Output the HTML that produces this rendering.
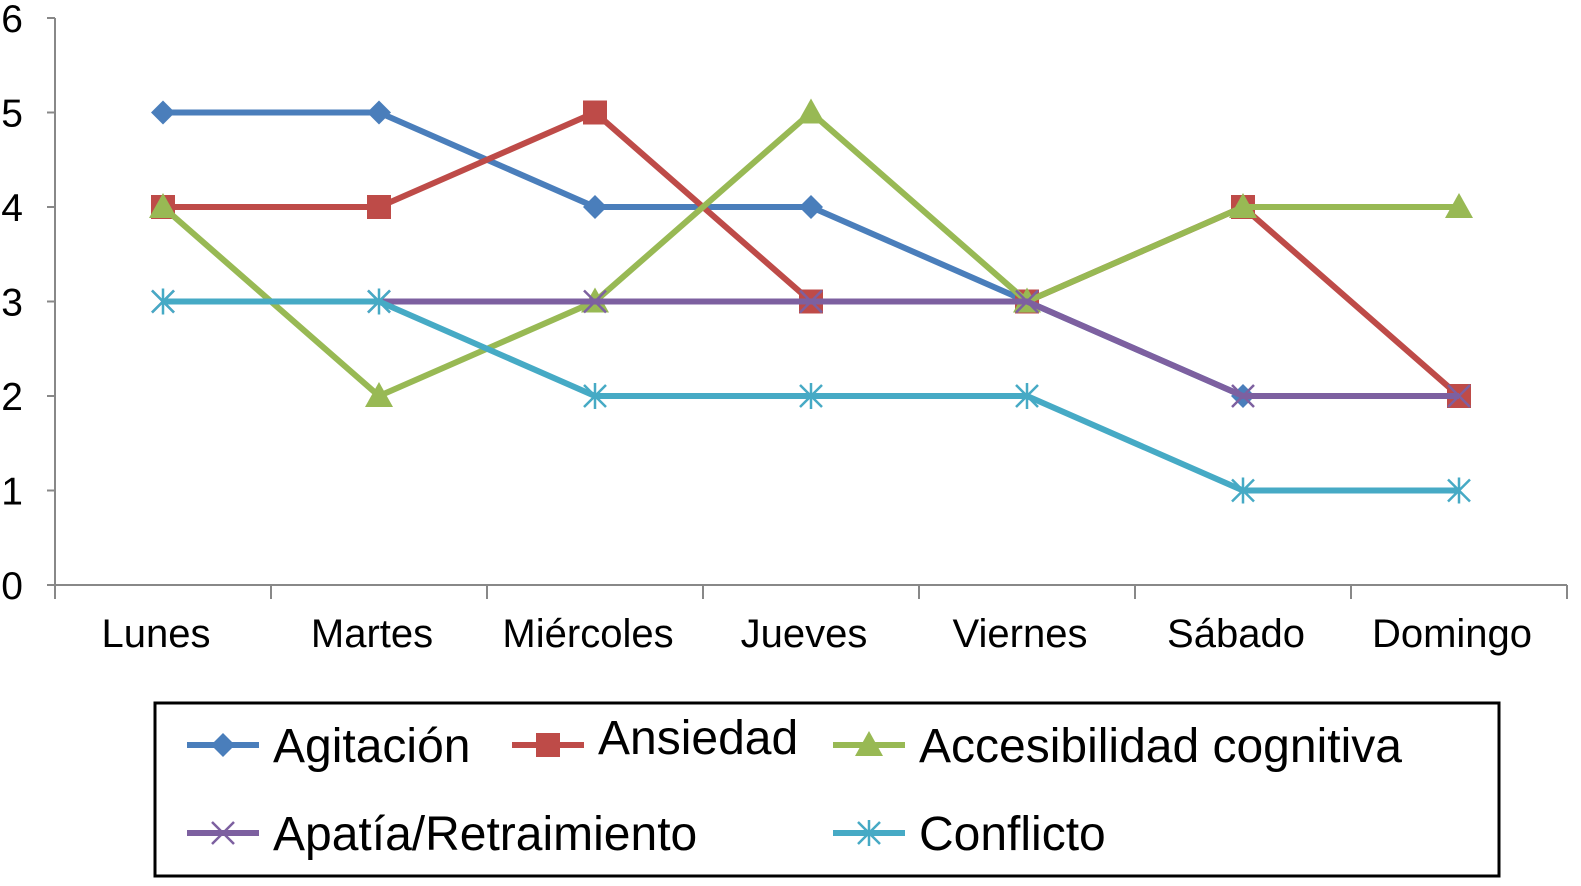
<!DOCTYPE html>
<html><head><meta charset="utf-8"><style>
html,body{margin:0;background:#fff;overflow:hidden}
svg{display:block;font-family:"Liberation Sans",Arial,sans-serif}
</style></head><body>
<svg id="chart" width="1581" height="886" viewBox="0 0 1581 886" xmlns="http://www.w3.org/2000/svg">
<g id="axes"></g><g id="series"></g><g id="legend"></g>
</svg>
<script>
const categories=["Lunes","Martes","Miércoles","Jueves","Viernes","Sábado","Domingo"];
const yTicks=[0,1,2,3,4,5,6];
const agitacion=[5,5,4,4,3,2,2];
const ansiedad=[4,4,5,3,3,4,2];
const accesibilidad=[4,2,3,5,3,4,4];
const apatia=[3,3,3,3,3,2,2];
const conflicto=[3,3,2,2,2,1,1];
const seriesNames=["Agitación","Ansiedad","Accesibilidad cognitiva","Apatía/Retraimiento","Conflicto"];

const NS="http://www.w3.org/2000/svg";
const x0=55,x1=1567,y0=585,y6=18;
const step=(x1-x0)/categories.length;
const xS=i=>x0+step*(i+0.5);
const yS=v=>y0-(y0-y6)*v/6;
function mk(tag,attrs,parent){const e=document.createElementNS(NS,tag);for(const k in attrs)e.setAttribute(k,attrs[k]);parent.appendChild(e);return e;}
const axes=document.getElementById('axes');
let a=mk('line',{x1:x0,y1:y6,x2:x0,y2:y0,stroke:'#888','stroke-width':2},axes);


a=mk('line',{x1:x0,y1:y0,x2:x1,y2:y0,stroke:'#888','stroke-width':2},axes);


yTicks.forEach(v=>{
  mk('line',{x1:x0-8,y1:yS(v),x2:x0,y2:yS(v),stroke:'#888','stroke-width':2},axes);
  const t=mk('text',{x:23,y:yS(v)+14,'font-size':39,'text-anchor':'end',fill:'#000'},axes);
  t.textContent=v;
  
  
});
for(let i=0;i<=categories.length;i++){
  mk('line',{x1:x0+step*i,y1:y0,x2:x0+step*i,y2:y0+14,stroke:'#888','stroke-width':2},axes);
}
categories.forEach((c,i)=>{
  const t=mk('text',{x:xS(i)-7,y:647,'font-size':40,'text-anchor':'middle',fill:'#000'},axes);
  t.textContent=c;
  
  
});
function marker(type,x,y,color,g){
  if(type==='diamond')mk('polygon',{points:`${x},${y-12} ${x+12},${y} ${x},${y+12} ${x-12},${y}`,fill:color},g);
  else if(type==='square')mk('rect',{x:x-12,y:y-12,width:24,height:24,fill:color},g);
  else if(type==='triangle')mk('polygon',{points:`${x},${y-14} ${x+14},${y+11} ${x-14},${y+11}`,fill:color},g);
  else if(type==='x'){mk('path',{d:`M${x-11},${y-11}L${x+11},${y+11}M${x+11},${y-11}L${x-11},${y+11}`,stroke:color,'stroke-width':2.5,fill:'none'},g);}
  else if(type==='star'){mk('path',{d:`M${x-11},${y-11}L${x+11},${y+11}M${x+11},${y-11}L${x-11},${y+11}M${x},${y-13}L${x},${y+13}`,stroke:color,'stroke-width':2.5,fill:'none'},g);}
}
const defs=[
 [agitacion,'#4a7ebb','diamond','series-agitacion'],
 [ansiedad,'#be4b48','square','series-ansiedad'],
 [accesibilidad,'#98b954','triangle','series-accesibilidad'],
 [apatia,'#7d60a0','x','series-apatia'],
 [conflicto,'#46aac5','star','series-conflicto']];
const sg=document.getElementById('series');
defs.forEach(([vals,color,m,name])=>{
  const g=mk('g',{},sg);
  
  
  mk('polyline',{points:vals.map((v,i)=>xS(i)+','+yS(v)).join(' '),fill:'none',stroke:color,'stroke-width':6,'stroke-linejoin':'round'},g);
  vals.forEach((v,i)=>marker(m,xS(i),yS(v),color,g));
});
const lg=document.getElementById('legend');
const box=mk('rect',{x:155,y:703,width:1344,height:173,fill:'none',stroke:'#000','stroke-width':3},lg);


const lpos=[[187,745],[512,745],[833,745],[187,833],[833,833]];
defs.forEach(([vals,color,m,name],i)=>{
  const [lx,ly]=lpos[i];
  const g=mk('g',{},lg);
  
  
  mk('line',{x1:lx,y1:ly,x2:lx+72,y2:ly,stroke:color,'stroke-width':6},g);
  marker(m,lx+36,ly,color,g);
  const t=mk('text',{x:lx+86,y:ly+(i===1?9:17),'font-size':48,fill:'#000'},g);
  t.textContent=seriesNames[i];
});
</script>
</body></html>
